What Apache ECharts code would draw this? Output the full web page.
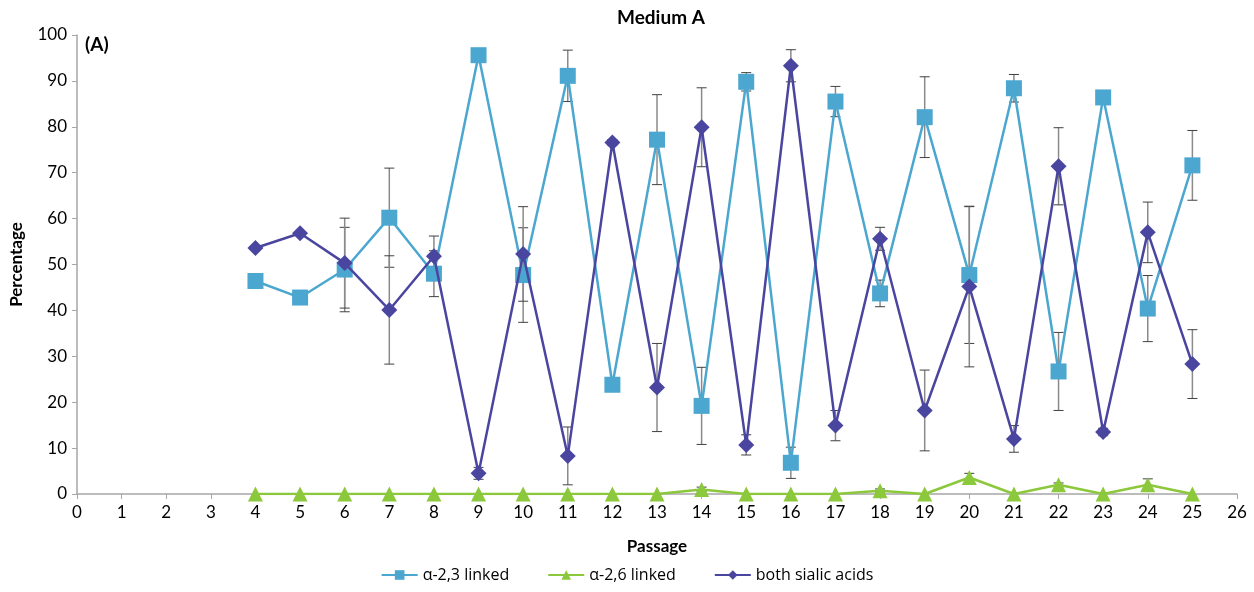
<!DOCTYPE html>
<html>
<head>
<meta charset="utf-8">
<script src="https://cdn.jsdelivr.net/npm/echarts@6/dist/echarts.min.js"></script>
<style>
  html, body { margin: 0; padding: 0; background: #fff; }
  #chart { width: 1254px; height: 592px; }
</style>
</head>
<body>
<div id="chart"></div>
<script>
// passages 4..25
var passages = [4, 5, 6, 7, 8, 9, 10, 11, 12, 13, 14, 15, 16, 17, 18, 19, 20, 21, 22, 23, 24, 25];

var a23 = [46.4, 42.8, 48.9, 60.2, 48.0, 95.6, 47.7, 91.1, 23.8, 77.2, 19.2, 89.8, 6.8, 85.5, 43.7, 82.1, 47.7, 88.4, 26.7, 86.4, 40.4, 71.6];
var a23Err = [0, 0, 9.2, 10.8, 5.0, 0.5, 10.3, 5.6, 1.2, 9.8, 8.4, 2.0, 3.4, 3.3, 2.9, 8.8, 14.9, 3.0, 8.5, 1.2, 7.2, 7.6];

var a26 = [0, 0, 0, 0, 0, 0, 0, 0, 0, 0, 1.0, 0, 0, 0, 0.7, 0, 3.6, 0, 2.0, 0, 2.0, 0];
var a26Err = [0, 0, 0, 0, 0, 0, 0, 0, 0, 0, 0.5, 0, 0, 0, 0.4, 0, 0.9, 0, 0.4, 0, 1.3, 0];

var both = [53.6, 56.8, 50.3, 40.1, 51.8, 4.5, 52.3, 8.3, 76.6, 23.2, 79.9, 10.7, 93.3, 14.9, 55.6, 18.2, 45.2, 12.0, 71.4, 13.5, 57.0, 28.3];
var bothErr = [0, 0, 9.8, 11.8, 4.4, 1.3, 10.3, 6.3, 0.6, 9.6, 8.6, 2.2, 3.5, 3.3, 2.5, 8.8, 17.5, 2.9, 8.4, 0.8, 6.6, 7.5];

var colA23 = '#4ba7cf';
var colA26 = '#8cc83c';
var colBoth = '#4a46a0';
var font = 'Lato, "Open Sans", sans-serif';

function pts(vals) {
    return passages.map(function (p, i) { return [p, vals[i]]; });
}
function errPts(vals, errs) {
    var out = [];
    passages.forEach(function (p, i) {
        if (errs[i] > 0) out.push([p, vals[i] - errs[i], vals[i] + errs[i]]);
    });
    return out;
}

function renderErr(params, api) {
    var x = api.value(0);
    var lo = api.coord([x, api.value(1)]);
    var hi = api.coord([x, api.value(2)]);
    var w = 5;
    return {
        type: 'group',
        children: [
            { type: 'line', shape: { x1: lo[0], y1: lo[1], x2: hi[0], y2: hi[1] }, style: { stroke: '#8a8a8a', lineWidth: 1.5 } },
            { type: 'line', shape: { x1: lo[0] - w, y1: lo[1], x2: lo[0] + w, y2: lo[1] }, style: { stroke: '#404040', lineWidth: 1 } },
            { type: 'line', shape: { x1: hi[0] - w, y1: hi[1], x2: hi[0] + w, y2: hi[1] }, style: { stroke: '#404040', lineWidth: 1 } }
        ]
    };
}

function errSeries(vals, errs) {
    return {
        type: 'custom',
        renderItem: renderErr,
        data: errPts(vals, errs),
        encode: { x: 0, y: [1, 2] },
        z: 1,
        silent: true
    };
}

var chart = echarts.init(document.getElementById('chart'));

var option = {
    animation: false,
    textStyle: { fontFamily: font },
    title: {
        text: 'Medium A',
        left: 612,
        top: 3,
        textStyle: { fontSize: 19, fontWeight: 'bold', color: '#000', fontFamily: font }
    },
    graphic: [{
        type: 'text',
        left: 85,
        top: 35,
        style: { text: '(A)', font: 'bold 19px ' + font, fill: '#000' }
    }],
    legend: {
        bottom: 4,
        left: 'center',
        itemGap: 38,
        itemWidth: 36,
        itemHeight: 12,
        textStyle: { fontSize: 16, color: '#000', fontFamily: '"Open Sans", sans-serif' },
        data: ['α-2,3 linked', 'α-2,6 linked', 'both sialic acids']
    },
    grid: { left: 75, right: 17, top: 35, bottom: 98 },
    xAxis: {
        type: 'value',
        min: 0,
        max: 26,
        interval: 1,
        name: 'Passage',
        nameLocation: 'middle',
        nameGap: 44,
        nameTextStyle: { fontSize: 17, fontWeight: 'bold', color: '#000' },
        axisLine: { lineStyle: { color: '#a6a6a6', width: 1.5 } },
        axisTick: { show: true, length: 5, lineStyle: { color: '#a6a6a6' } },
        axisLabel: { fontSize: 17, color: '#000', margin: 10 },
        splitLine: { show: false }
    },
    yAxis: {
        type: 'value',
        min: 0,
        max: 100,
        interval: 10,
        name: 'Percentage',
        nameLocation: 'middle',
        nameGap: 52,
        nameTextStyle: { fontSize: 17, fontWeight: 'bold', color: '#000' },
        axisLine: { show: true, lineStyle: { color: '#a6a6a6', width: 1.5 } },
        axisTick: { show: true, length: 5, lineStyle: { color: '#a6a6a6' } },
        axisLabel: { fontSize: 17, color: '#000', margin: 10 },
        splitLine: { show: false }
    },
    series: [
        errSeries(a23, a23Err),
        errSeries(a26, a26Err),
        errSeries(both, bothErr),
        {
            name: 'α-2,3 linked',
            type: 'line',
            data: pts(a23),
            symbol: 'rect',
            symbolSize: 16,
            z: 3,
            lineStyle: { color: colA23, width: 2.5 },
            itemStyle: { color: colA23 }
        },
        {
            name: 'α-2,6 linked',
            type: 'line',
            data: pts(a26),
            symbol: 'triangle',
            symbolSize: 15,
            z: 3,
            lineStyle: { color: colA26, width: 2.5 },
            itemStyle: { color: colA26 }
        },
        {
            name: 'both sialic acids',
            type: 'line',
            data: pts(both),
            symbol: 'diamond',
            symbolSize: 16,
            z: 4,
            lineStyle: { color: colBoth, width: 2.5 },
            itemStyle: { color: colBoth }
        }
    ]
};

chart.setOption(option);
</script>
</body>
</html>
